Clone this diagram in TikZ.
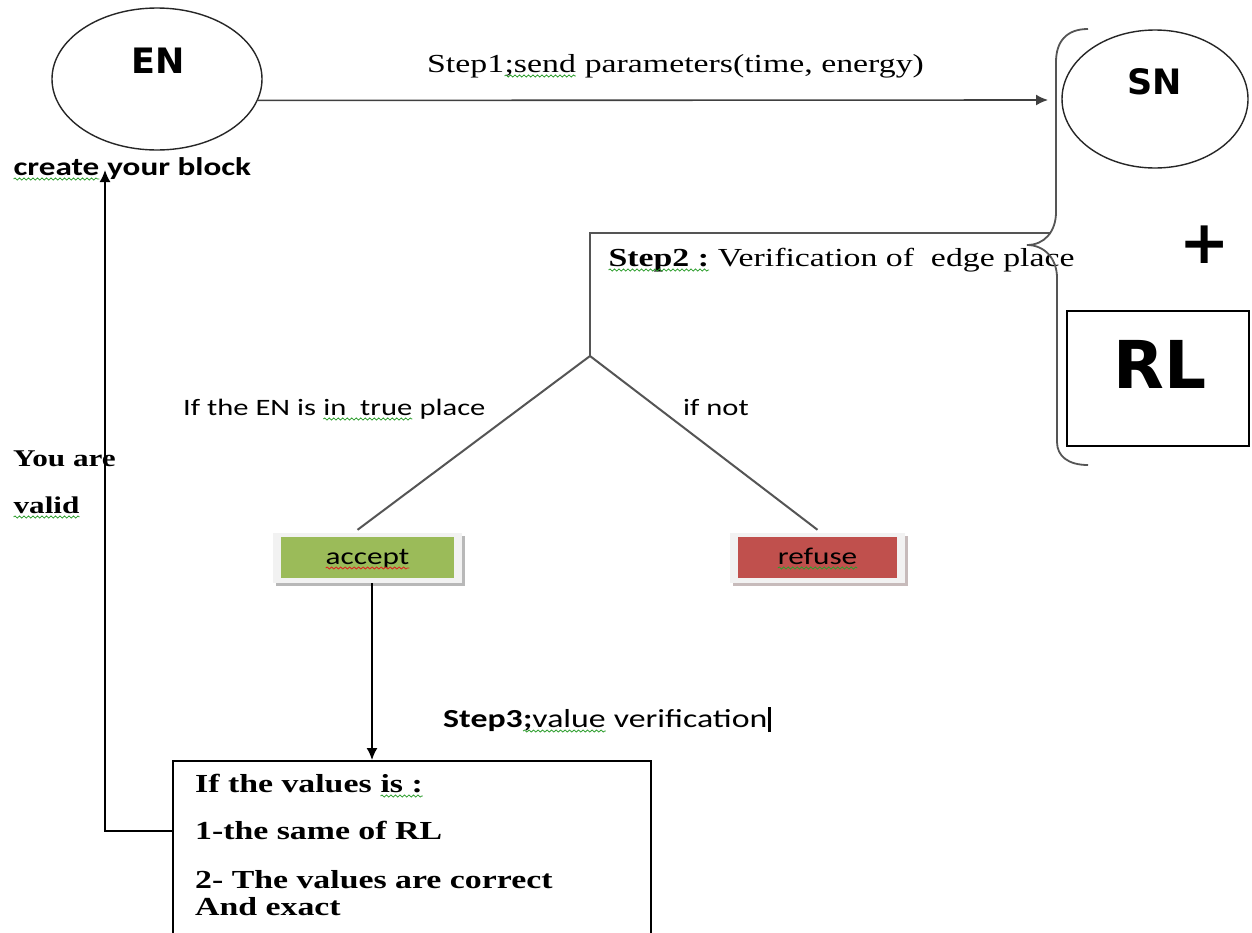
\documentclass[tikz,border=0pt]{standalone}
\usepackage{fontspec}
\setmainfont{Liberation Serif}[FakeStretch=1.3]
\newfontfamily\calfont{Carlito}[FakeStretch=1.3]
\newfontfamily\heavysans{DejaVu Sans}
\usetikzlibrary{arrows.meta,shapes.geometric,shadows,decorations.pathmorphing}

\definecolor{accgreen}{HTML}{9BBB59}
\definecolor{refred}{HTML}{C0504D}
\definecolor{wavegreen}{HTML}{2E9E2E}
\definecolor{wavered}{HTML}{E02020}
\definecolor{linegray}{HTML}{555555}

\tikzset{
  wavy/.style={decorate, decoration={snake, amplitude=1pt, segment length=4.5pt}, line width=0.8pt},
}
% spell-check style wavy underlines
\newcommand\wavebox[2]{\tikz[baseline=(w.base)]{\node[shape=rectangle, inner sep=0pt, outer sep=0pt,
    minimum width=0pt, minimum height=0pt, fill=none, draw=none] (w) {#2};
  \draw[wavy, #1] ([yshift=-4pt]w.base west) -- ([yshift=-4pt]w.base east);}}
\newcommand\gwave[1]{\wavebox{wavegreen}{#1}}
\newcommand\rwave[1]{\wavebox{wavered}{#1}}

\tikzset{
  oval/.style={ellipse, draw=black!85, line width=1.4pt, inner sep=0pt},
  bigtxt/.style={inner sep=0pt, font=\heavysans\bfseries\fontsize{35}{35}\selectfont},
  sertxt/.style={anchor=base west, inner sep=0pt, font=\fontsize{26}{30}\selectfont},
  bsertxt/.style={anchor=base west, inner sep=0pt, font=\bfseries\fontsize{26}{30}\selectfont},
  caltxt/.style={anchor=base west, inner sep=0pt, font=\calfont\fontsize{23.5}{28}\selectfont},
  tag/.style 2 args={minimum height=50pt, inner sep=0pt, text height=17pt, text depth=5pt,
    font=\calfont\fontsize{24}{28}\selectfont, fill=black!5,
    drop shadow={shadow xshift=3pt, shadow yshift=-3pt, opacity=1, fill=#2},
    path picture={\fill[#1] ([shift={(8pt,5pt)}]path picture bounding box.south west)
      rectangle ([shift={(-8pt,-4pt)}]path picture bounding box.north east);}},
  gline/.style={draw=linegray, line width=2pt},
  arr/.style={-{Latex[length=12pt,width=11pt]}, line width=1.6pt},
}

\begin{document}
\begin{tikzpicture}[x=1pt, y=-1pt]
\clip (0,0) rectangle (1252,932);
\fill[white] (0,0) rectangle (1252,932);

% nodes
\node[oval, minimum width=210pt, minimum height=142pt] (EN) at (157,79) {};
\node[bigtxt] (ENt) at (158,61) {EN};
\node[oval, minimum width=186pt, minimum height=138pt] (SN) at (1155,99) {};
\node[bigtxt] (SNt) at (1155,82) {SN};
\node[inner sep=0pt, font=\heavysans\bfseries\fontsize{60}{60}\selectfont] (plus) at (1205,245) {+};
\node[draw, line width=1.5pt, minimum width=182pt, minimum height=135pt] (RL) at (1158,378.5) {};
\node[inner sep=0pt, font=\heavysans\bfseries\fontsize{66}{66}\selectfont] (RLt) at (1160,364) {RL};

\node[tag={accgreen}{black!28}, minimum width=189pt] (acc) at (367.5,558) {\rwave{accept}};
\node[tag={refred}{refred!35!black!30}, minimum width=175pt] (ref) at (817.5,558) {\gwave{refuse}};

\node[draw, line width=1.6pt, anchor=north west, minimum width=478pt, minimum height=220pt] (box) at (172,760) {};

% texts
\node[sertxt] (s1) at (427,72) {Step1\gwave{;send} parameters(time, energy)};
\node[sertxt] (s2) at (608,266) {\textbf{\gwave{Step2 :}} Verification of\ \ edge place};
\node[caltxt, font=\calfont\bfseries\fontsize{25.5}{30}\selectfont] (cyb) at (13,175) {\gwave{create} your block};
\node[caltxt] (yes) at (183,415) {If the EN is \gwave{in\ \ true} place};
\node[caltxt] (no) at (683,415) {if not};
\node[caltxt, font=\calfont\fontsize{26}{30}\selectfont] (s3) at (443,727)
  {\textbf{Step3}\gwave{\textbf{;}value} verification\hspace{1pt}\rule[-5pt]{2.6pt}{25pt}};
\node[bsertxt, font=\bfseries\fontsize{24}{28}\selectfont] (you) at (13,466) {You are};
\node[bsertxt, font=\bfseries\fontsize{24}{28}\selectfont] (valid) at (13,513) {\gwave{valid}};
\node[bsertxt] (c0) at (195,792) {If the values \gwave{is :}};
\node[bsertxt] (c1) at (195,839) {1-the same of RL};
\node[bsertxt] (c2) at (195,888) {2- The values are correct};
\node[bsertxt] (c3) at (195,915) {And exact};

% curly brace grouping SN and RL
\draw[draw=linegray, line width=1.8pt]
  (1088,29) .. controls (1066,29) and (1056,42) .. (1056,62) -- (1056,212)
  .. controls (1056,232) and (1044,245) .. (1027,245)
  .. controls (1044,245) and (1057,258) .. (1057,278) -- (1057,442)
  .. controls (1057,456) and (1068,465) .. (1088,465);

% connectors
\coordinate (s1end) at (1048,100);
\coordinate (bracejoin) at (1050,233);
\coordinate (fork) at (590,356);
\coordinate (fbtop) at (105,170);

\draw[arr, draw=black!75] (EN.-12) -- (s1end);
\draw[gline] (bracejoin) -| (fork);
\draw[gline] (fork) -- ([xshift=-10pt,yshift=3pt]acc.north);
\draw[gline] (fork) -- ([yshift=3pt]ref.north);
\draw[arr] ([xshift=4.5pt]acc.south) -- ([xshift=4.5pt]acc.south |- box.north);
\draw[arr] ([yshift=-71pt]box.north west) -| (fbtop);
\end{tikzpicture}
\end{document}
